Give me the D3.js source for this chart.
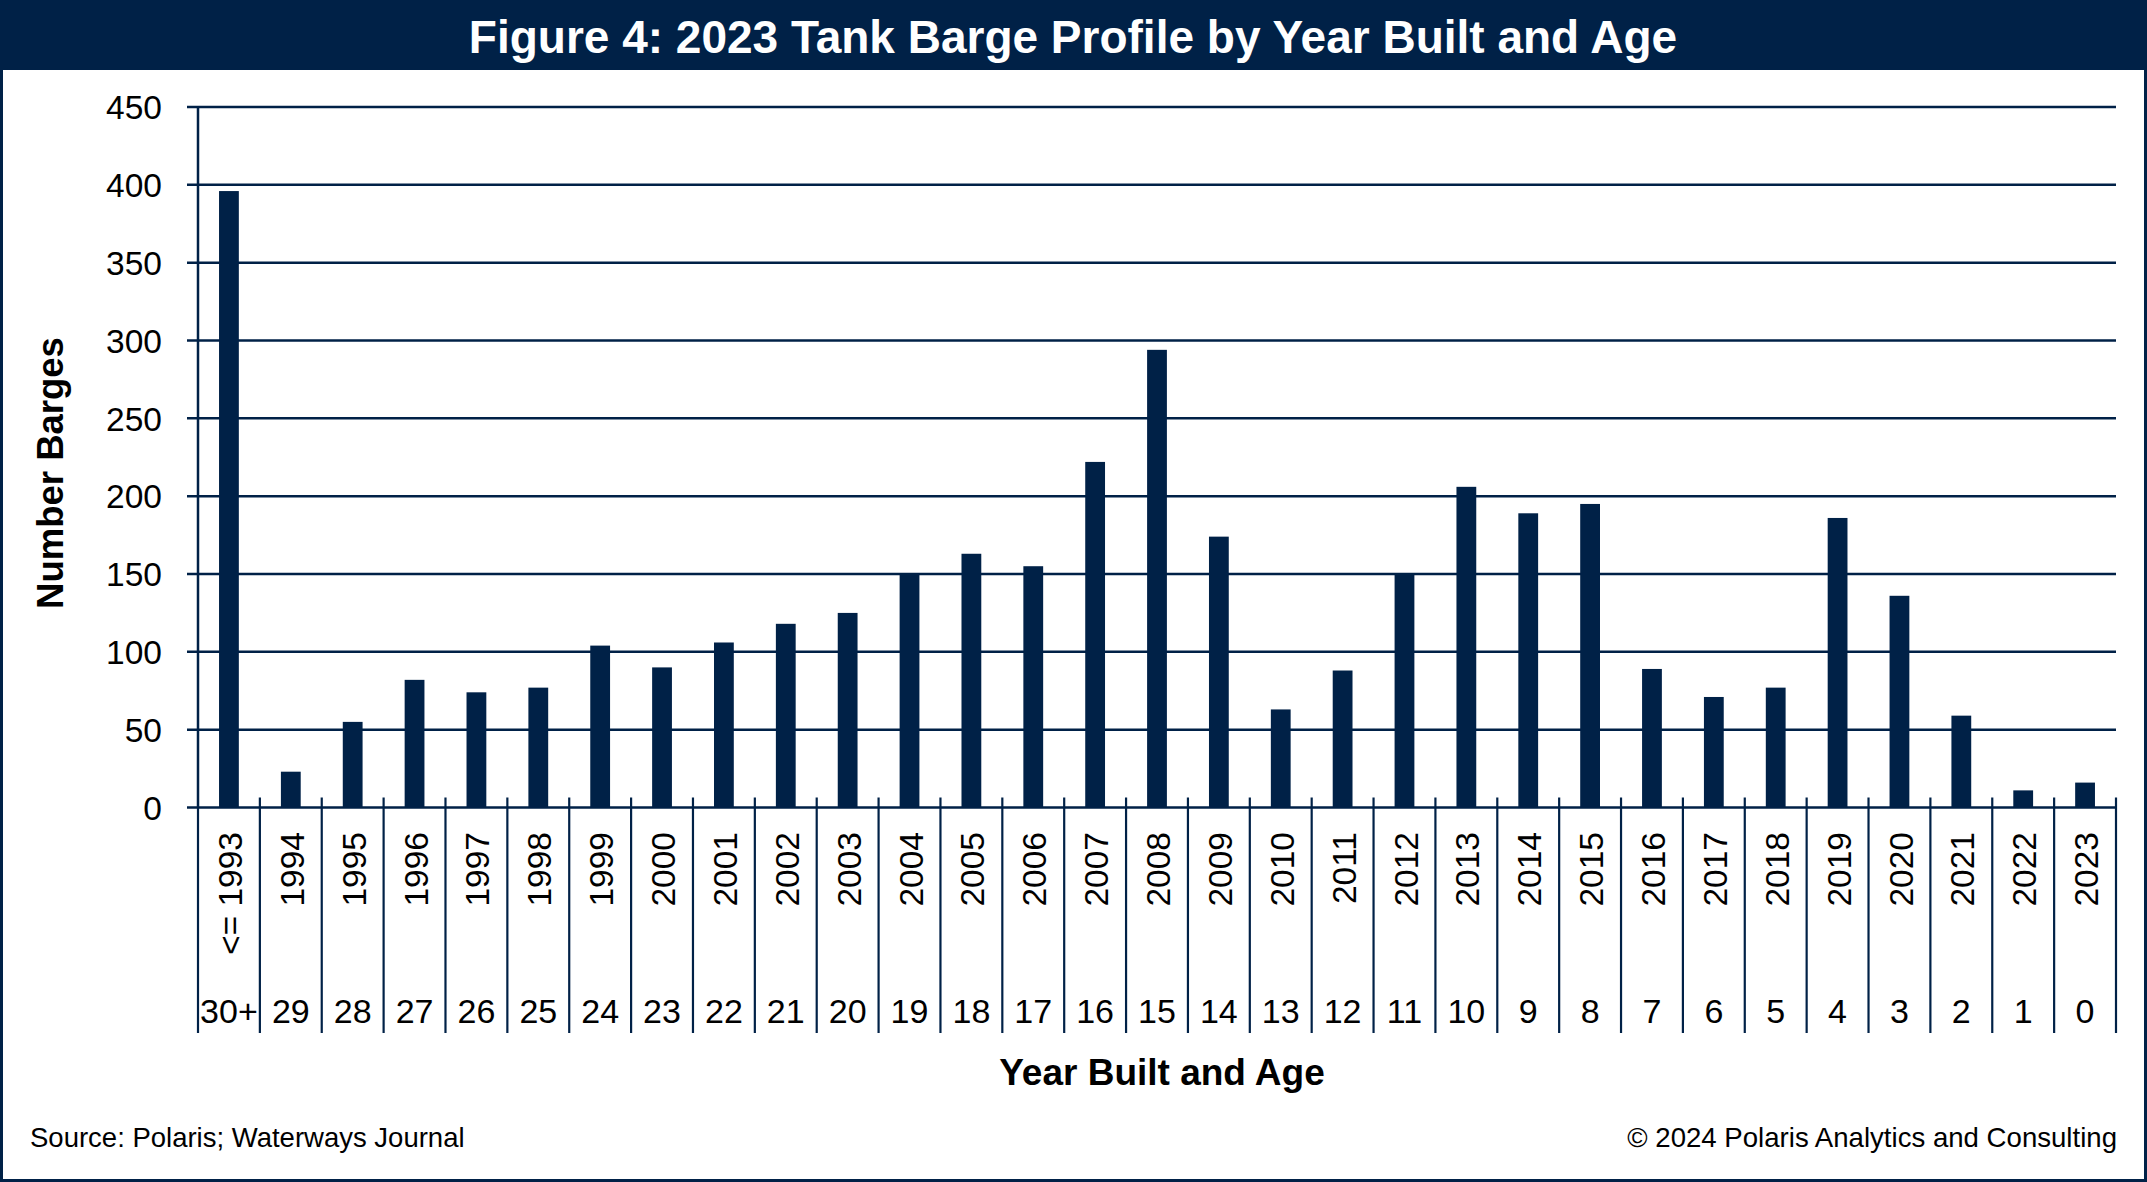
<!DOCTYPE html>
<html>
<head>
<meta charset="utf-8">
<script src="https://cdn.jsdelivr.net/npm/d3@7"></script>
<style>
  html, body { margin: 0; padding: 0; background: #fff; }
  svg { display: block; }
  text { font-family: "Liberation Sans", Arial, sans-serif; }
</style>
</head>
<body>
<svg id="chart" width="2147" height="1182"></svg>
<script>
// ---- data ----
const years = ["<= 1993","1994","1995","1996","1997","1998","1999","2000","2001","2002","2003","2004","2005","2006","2007","2008","2009","2010","2011","2012","2013","2014","2015","2016","2017","2018","2019","2020","2021","2022","2023"];
const ages = ["30+","29","28","27","26","25","24","23","22","21","20","19","18","17","16","15","14","13","12","11","10","9","8","7","6","5","4","3","2","1","0"];
const barges = [396,23,55,82,74,77,104,90,106,118,125,150,163,155,222,294,174,63,88,150,206,189,195,89,71,77,186,136,59,11,16];
const yTicks = [0,50,100,150,200,250,300,350,400,450];

const title = "Figure 4: 2023 Tank Barge Profile by Year Built and Age";
const yTitle = "Number Barges";
const xTitle = "Year Built and Age";
const sourceText = "Source: Polaris; Waterways Journal";
const copyText = "\u00A9 2024 Polaris Analytics and Consulting";

// ---- layout ----
const W = 2147, H = 1182;
const navy = "#002147";
const svg = d3.select("#chart");

const x0 = 198, x1 = 2116, yBase = 807.5, yTop = 107;

const x = d3.scaleBand().domain(years).range([x0, x1]).paddingInner(0).paddingOuter(0);
const y = d3.scaleLinear().domain([0, 450]).range([yBase, yTop]);

// background
svg.append("rect").attr("x",0).attr("y",0).attr("width",W).attr("height",H).attr("fill","#fff");

// title bar
svg.append("rect").attr("x",0).attr("y",0).attr("width",W).attr("height",70).attr("fill",navy);
svg.append("text").attr("x",1073).attr("y",53).attr("text-anchor","middle")
  .attr("fill","#fff").attr("font-size",46).attr("font-weight","bold").text(title);

// gridlines + y axis ticks
const yAxis = d3.axisLeft(y).tickValues(yTicks).tickSize(0).tickPadding(0);
const gy = svg.append("g").attr("transform",`translate(${x0},0)`).call(yAxis);
gy.select(".domain").remove();
gy.selectAll(".tick text").attr("x",-36).attr("dy","0.35em")
  .attr("font-size",33.5).attr("fill","#000").style("font-family","'Liberation Sans', Arial, sans-serif");

svg.append("g").selectAll("line").data(yTicks.filter(d => d > 0)).join("line")
  .attr("x1", x0 - 11).attr("x2", x1)
  .attr("y1", d => y(d)).attr("y2", d => y(d))
  .attr("stroke", navy).attr("stroke-width", 2.5);

// bars
const bw = x.bandwidth() * 0.32;
svg.append("g").selectAll("rect").data(barges).join("rect")
  .attr("x", (d,i) => x(years[i]) + x.bandwidth()/2 - bw/2)
  .attr("width", bw)
  .attr("y", d => y(d))
  .attr("height", d => yBase - y(d))
  .attr("fill", navy);

// y axis line
svg.append("line").attr("x1",x0).attr("x2",x0).attr("y1",yTop).attr("y2",yBase)
  .attr("stroke",navy).attr("stroke-width",2.5);
// x axis line
svg.append("line").attr("x1",x0 - 11).attr("x2",x1).attr("y1",yBase).attr("y2",yBase)
  .attr("stroke",navy).attr("stroke-width",2.5);

// category separators
const bounds = years.map(d => x(d)).concat([x1]);
svg.append("g").selectAll("line").data(bounds).join("line")
  .attr("x1", d => d).attr("x2", d => d)
  .attr("y1", (d,i) => i === 0 ? yBase : yBase - 10).attr("y2", 1033)
  .attr("stroke", navy).attr("stroke-width", 2.2);

// year labels (rotated)
svg.append("g").selectAll("text").data(years).join("text")
  .attr("transform", d => `translate(${x(d) + x.bandwidth()/2 + 1},832) rotate(-90)`)
  .attr("text-anchor","end").attr("dy","0.36em")
  .attr("font-size",33.5).attr("fill","#000")
  .text(d => d);

// age labels
svg.append("g").selectAll("text").data(ages).join("text")
  .attr("x", (d,i) => x(years[i]) + x.bandwidth()/2)
  .attr("y", 1023)
  .attr("text-anchor","middle")
  .attr("font-size",34).attr("fill","#000")
  .text(d => d);

// axis titles
svg.append("text").attr("x",1162).attr("y",1085).attr("text-anchor","middle")
  .attr("font-size",37).attr("font-weight","bold").attr("fill","#000").text(xTitle);
svg.append("text").attr("transform","translate(63,473) rotate(-90)").attr("text-anchor","middle")
  .attr("font-size",36.5).attr("font-weight","bold").attr("fill","#000").text(yTitle);

// footer
svg.append("text").attr("x",30).attr("y",1147).attr("font-size",27.5).attr("fill","#000").text(sourceText);
svg.append("text").attr("x",2117).attr("y",1147).attr("text-anchor","end").attr("font-size",27.6).attr("fill","#000").text(copyText);

// outer border
svg.append("rect").attr("x",1.5).attr("y",1.5).attr("width",W-3).attr("height",H-3)
  .attr("fill","none").attr("stroke",navy).attr("stroke-width",3);
</script>
</body>
</html>
